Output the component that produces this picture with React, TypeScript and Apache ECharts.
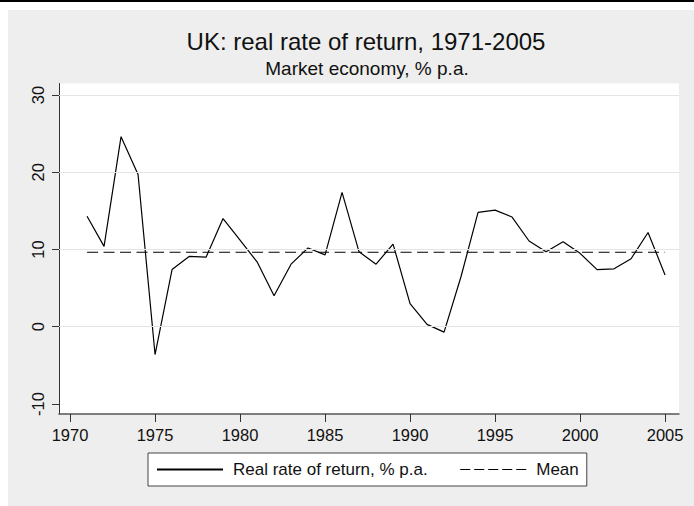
import React, { useEffect, useRef } from "react";
import * as echarts from "echarts";

const years = [
  1971, 1972, 1973, 1974, 1975, 1976, 1977, 1978, 1979, 1980,
  1981, 1982, 1983, 1984, 1985, 1986, 1987, 1988, 1989, 1990,
  1991, 1992, 1993, 1994, 1995, 1996, 1997, 1998, 1999, 2000,
  2001, 2002, 2003, 2004, 2005,
];
const realReturn = [
  14.3, 10.4, 24.6, 19.7, -3.6, 7.4, 9.1, 9.0, 14.0, 11.2,
  8.4, 4.0, 8.1, 10.2, 9.3, 17.4, 9.7, 8.1, 10.7, 3.0,
  0.3, -0.7, 6.5, 14.8, 15.1, 14.2, 11.1, 9.7, 11.0, 9.5,
  7.4, 7.5, 8.8, 12.2, 6.7,
];
const meanReturn = 9.64;
const xTicks = [1970, 1975, 1980, 1985, 1990, 1995, 2000, 2005];
const yTicks = [-10, 0, 10, 20, 30];
const yGrid = [0, 10, 20, 30];

const FONT = "'Liberation Sans', Arial, Helvetica, sans-serif";
const SERIES_NAME = "Real rate of return, % p.a.";
const MEAN_NAME = "Mean";

export default function App() {
  const ref = useRef<HTMLDivElement>(null);
  useEffect(() => {
    if (!ref.current) return;
    const chart = echarts.init(ref.current, null, { renderer: "svg" });
    chart.setOption({
      animation: false,
      backgroundColor: "#eeeeee",
      title: [
        {
          text: "UK: real rate of return, 1971-2005",
          left: 358,
          top: 19,
          textAlign: "center",
          padding: 0,
          textStyle: { fontSize: 24, fontWeight: "normal", color: "#111", fontFamily: FONT },
        },
        {
          text: "Market economy, % p.a.",
          left: 359,
          top: 49,
          textAlign: "center",
          padding: 0,
          textStyle: { fontSize: 19, fontWeight: "normal", color: "#111", fontFamily: FONT },
        },
      ],
      grid: {
        left: 51,
        right: 15,
        top: 73.5,
        bottom: 92,
        show: true,
        backgroundColor: "#ffffff",
        borderWidth: 0,
      },
      legend: {
        left: 140,
        top: 443,
        orient: "horizontal",
        backgroundColor: "#ffffff",
        borderColor: "#444",
        borderWidth: 1,
        borderRadius: 0,
        padding: [8, 8, 8, 8],
        itemWidth: 66,
        itemHeight: 14,
        itemGap: 32,
        itemStyle: { opacity: 0, color: "transparent", borderWidth: 0 },
        textStyle: { fontSize: 17, color: "#111", fontFamily: FONT, padding: [0, 0, 0, 5] },
        data: [
          { name: SERIES_NAME },
          { name: MEAN_NAME, lineStyle: { type: [10, 4], width: 1.2, color: "#000" } },
        ],
      },
      xAxis: {
        type: "value",
        min: 1969.35,
        max: 2005.82,
        axisLine: { show: true, onZero: false, lineStyle: { color: "#555", width: 1.5 } },
        axisTick: { show: true, customValues: xTicks, length: 8, lineStyle: { color: "#333" } },
        axisLabel: {
          customValues: xTicks,
          formatter: (v: number) => String(v),
          margin: 12,
          fontSize: 16.5,
          color: "#111",
          fontFamily: FONT,
        },
        splitLine: { show: false },
      },
      yAxis: {
        type: "value",
        min: -11.3,
        max: 31.49,
        axisLine: { show: true, onZero: false, lineStyle: { color: "#333", width: 1 } },
        axisTick: { show: true, customValues: yTicks, length: 7, lineStyle: { color: "#333" } },
        axisLabel: {
          customValues: yTicks,
          formatter: (v: number) => String(v),
          rotate: 90,
          margin: 13,
          fontSize: 16.5,
          color: "#111",
          fontFamily: FONT,
        },
        splitLine: { show: false },
      },
      series: [
        {
          type: "line",
          name: "grid",
          data: [],
          z: 1,
          silent: true,
          markLine: {
            silent: true,
            symbol: "none",
            label: { show: false },
            lineStyle: { color: "#e4e4e4", type: "solid", width: 1 },
            data: yGrid.map((v) => ({ yAxis: v })),
          },
        },
        {
          type: "line",
          name: SERIES_NAME,
          data: years.map((y, i) => [y, realReturn[i]]),
          symbol: "none",
          z: 3,
          lineStyle: { color: "#000", width: 1.2, type: "solid" },
          itemStyle: { color: "#000" },
        },
        {
          type: "line",
          name: MEAN_NAME,
          data: years.map((y) => [y, meanReturn]),
          symbol: "none",
          z: 3,
          lineStyle: { color: "#000", width: 1.2, type: [11, 5.5] },
          itemStyle: { color: "#000" },
        },
      ],
    });
    return () => chart.dispose();
  }, []);
  return (
    <>
      <div style={{ position: "absolute", left: 0, top: 0, width: 694, height: 2, background: "#000" }} />
      <div
        ref={ref}
        style={{ position: "absolute", left: 8, top: 10, width: 686, height: 496 }}
      />
    </>
  );
}
